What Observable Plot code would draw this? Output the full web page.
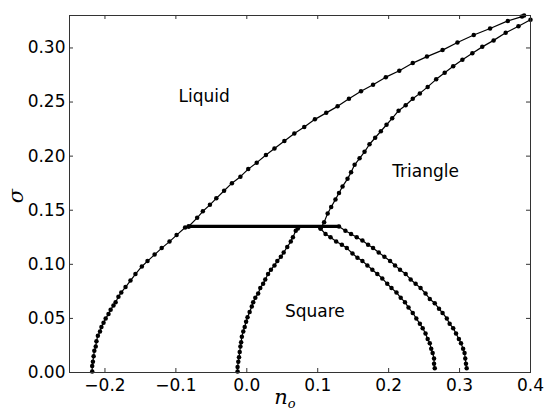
<!DOCTYPE html>
<html>
<head>
<meta charset="utf-8">
<script src="https://cdn.jsdelivr.net/npm/d3@7"></script>
<script src="https://cdn.jsdelivr.net/npm/@observablehq/plot@0.6"></script>
<style>
  html, body { margin: 0; padding: 0; background: #fff; }
  #chart { width: 547px; height: 412px; }
</style>
</head>
<body>
<div id="chart"></div>
<script>
// Phase diagram in the (n_o, sigma) plane: phase boundaries sampled as points.

const xTicks = [-0.2, -0.1, 0.0, 0.1, 0.2, 0.3, 0.4];
const yTicks = [0.00, 0.05, 0.10, 0.15, 0.20, 0.25, 0.30];

// liquid / square boundary, from the n_o axis up to the triple point
const liquidSquare = [
  [-0.218, 0.001], [-0.218, 0.006], [-0.217, 0.010], [-0.216, 0.015], [-0.215, 0.020],
  [-0.213, 0.024], [-0.212, 0.029], [-0.210, 0.034], [-0.207, 0.038], [-0.205, 0.042],
  [-0.202, 0.046], [-0.199, 0.050], [-0.195, 0.054], [-0.192, 0.058], [-0.188, 0.062],
  [-0.185, 0.065], [-0.181, 0.070], [-0.177, 0.074], [-0.171, 0.079], [-0.164, 0.085],
  [-0.157, 0.091], [-0.148, 0.098], [-0.140, 0.103], [-0.130, 0.109], [-0.120, 0.115],
  [-0.109, 0.121], [-0.099, 0.127], [-0.087, 0.134], [-0.082, 0.135]
];

// liquid / triangle boundary, from the triple point to the top of the frame
const liquidTriangle = [
  [-0.082, 0.135], [-0.070, 0.143], [-0.062, 0.149], [-0.052, 0.155], [-0.043, 0.161],
  [-0.032, 0.168], [-0.021, 0.175], [-0.009, 0.181], [0.002, 0.188], [0.014, 0.194],
  [0.027, 0.201], [0.039, 0.207], [0.053, 0.214], [0.067, 0.221], [0.081, 0.227],
  [0.096, 0.234], [0.112, 0.240], [0.128, 0.246], [0.144, 0.253], [0.161, 0.260],
  [0.178, 0.266], [0.196, 0.273], [0.215, 0.279], [0.234, 0.286], [0.254, 0.292],
  [0.276, 0.298], [0.297, 0.305], [0.320, 0.312], [0.343, 0.318], [0.368, 0.325],
  [0.388, 0.329], [0.391, 0.330]
];

// square stability limit on the low-density side
const squareLeft = [
  [-0.013, 0.001], [-0.013, 0.005], [-0.012, 0.010], [-0.011, 0.014], [-0.010, 0.019],
  [-0.009, 0.024], [-0.008, 0.028], [-0.007, 0.033], [-0.005, 0.038], [-0.003, 0.042],
  [-0.001, 0.047], [0.001, 0.051], [0.004, 0.056], [0.007, 0.061], [0.009, 0.065],
  [0.012, 0.069], [0.016, 0.073], [0.019, 0.078], [0.023, 0.082], [0.026, 0.086],
  [0.030, 0.091], [0.034, 0.095], [0.039, 0.099], [0.043, 0.103], [0.048, 0.107],
  [0.052, 0.111], [0.057, 0.116], [0.062, 0.121], [0.065, 0.125], [0.069, 0.131],
  [0.072, 0.133]
];

// triangle stability limit, rising towards the upper right corner
const triangleLeft = [
  [0.104, 0.133], [0.109, 0.139], [0.114, 0.147], [0.119, 0.153], [0.125, 0.160],
  [0.130, 0.166], [0.135, 0.172], [0.142, 0.179], [0.147, 0.185], [0.152, 0.192],
  [0.159, 0.198], [0.166, 0.204], [0.173, 0.211], [0.181, 0.217], [0.189, 0.223],
  [0.197, 0.229], [0.205, 0.235], [0.214, 0.242], [0.224, 0.247], [0.234, 0.253],
  [0.244, 0.258], [0.255, 0.264], [0.267, 0.271], [0.279, 0.277], [0.291, 0.283],
  [0.304, 0.289], [0.318, 0.295], [0.332, 0.301], [0.348, 0.307], [0.365, 0.314],
  [0.383, 0.320], [0.400, 0.326]
];

// square / triangle boundary (inner branch down to the axis)
const squareRight = [
  [0.104, 0.133], [0.111, 0.128], [0.118, 0.125], [0.126, 0.121], [0.134, 0.118],
  [0.141, 0.115], [0.149, 0.110], [0.156, 0.106], [0.163, 0.103], [0.170, 0.099],
  [0.177, 0.095], [0.184, 0.091], [0.191, 0.087], [0.198, 0.082], [0.204, 0.078],
  [0.211, 0.074], [0.217, 0.069], [0.223, 0.065], [0.228, 0.060], [0.234, 0.055],
  [0.239, 0.050], [0.244, 0.045], [0.248, 0.041], [0.252, 0.036], [0.255, 0.031],
  [0.258, 0.027], [0.260, 0.022], [0.262, 0.018], [0.264, 0.013], [0.264, 0.008],
  [0.265, 0.004]
];

// square / triangle boundary (outer branch down to the axis)
const triangleRight = [
  [0.130, 0.135], [0.139, 0.131], [0.147, 0.128], [0.155, 0.125], [0.163, 0.122],
  [0.171, 0.118], [0.178, 0.115], [0.186, 0.111], [0.194, 0.107], [0.202, 0.103],
  [0.209, 0.099], [0.216, 0.095], [0.224, 0.091], [0.231, 0.086], [0.238, 0.082],
  [0.245, 0.078], [0.252, 0.073], [0.258, 0.068], [0.265, 0.064], [0.271, 0.059],
  [0.276, 0.055], [0.282, 0.050], [0.286, 0.045], [0.291, 0.041], [0.295, 0.036],
  [0.299, 0.031], [0.302, 0.027], [0.305, 0.022], [0.307, 0.018], [0.308, 0.013],
  [0.309, 0.008], [0.310, 0.004]
];

// three-phase coexistence line at the triple-point sigma
const coexistence = [[-0.082, 0.135], [0.130, 0.135]];

const regionNames = ["Liquid", "Triangle", "Square"];
const regionX = [-0.060, 0.252, 0.096];
const regionY = [0.255, 0.186, 0.056];

const W = 547, H = 412;
const mL = 69, mR = 17, mT = 15, mB = 40;
const innerW = W - mL - mR, innerH = H - mT - mB;
const tickLen = 4;

const boundaries = [liquidSquare, liquidTriangle, squareLeft, triangleLeft, squareRight, triangleRight];
const regions = regionNames.map((name, i) => ({name, x: regionX[i], y: regionY[i]}));

const curveMarks = boundaries.flatMap(pts => [
  Plot.line(pts, {x: d => d[0], y: d => d[1], stroke: "black", strokeWidth: 1.2}),
  Plot.dot(pts, {x: d => d[0], y: d => d[1], r: 2.25, fill: "black", stroke: "none"})
]);

const chart = Plot.plot({
  width: W,
  height: H,
  marginLeft: mL,
  marginRight: mR,
  marginTop: mT,
  marginBottom: mB,
  x: {domain: [-0.25, 0.4]},
  y: {domain: [0, 0.33]},
  style: {fontFamily: "DejaVu Sans", fontSize: "17px", color: "black", background: "white"},
  marks: [
    ...curveMarks,
    Plot.line(coexistence, {x: d => d[0], y: d => d[1], stroke: "black", strokeWidth: 3.2}),
    Plot.text(regions, {x: "x", y: "y", text: "name", fontSize: 17, fill: "black"}),
    // inward tick marks on all four sides
    Plot.ruleX(xTicks, {x: d => d, insetTop: innerH - tickLen, stroke: "#333"}),
    Plot.ruleX(xTicks, {x: d => d, insetBottom: innerH - tickLen, stroke: "#333"}),
    Plot.ruleY(yTicks, {y: d => d, insetRight: innerW - tickLen, stroke: "#333"}),
    Plot.ruleY(yTicks, {y: d => d, insetLeft: innerW - tickLen, stroke: "#333"}),
    Plot.axisX(xTicks, {tickSize: 0, tickPadding: 6, tickFormat: d3.format(".1f"), fontSize: 17, label: null}),
    Plot.axisY(yTicks, {tickSize: 0, tickPadding: 4, tickFormat: d3.format(".2f"), fontSize: 17, label: null}),
    Plot.frame({stroke: "#333", strokeWidth: 1})
  ]
});

// axis titles set in italic serif, with a subscript on n
const svg = d3.select(chart);
svg.append("text")
  .attr("transform", "translate(16,196) rotate(-90)")
  .attr("text-anchor", "middle")
  .attr("dy", "0.35em")
  .style("font-family", "'DejaVu Serif', serif")
  .style("font-style", "italic")
  .style("font-size", "21px")
  .attr("fill", "black")
  .text("σ");

const xTitle = svg.append("text")
  .attr("x", 285)
  .attr("y", 404)
  .style("font-family", "'DejaVu Serif', serif")
  .style("font-style", "italic")
  .style("font-size", "21px")
  .attr("fill", "black");
xTitle.append("tspan").text("n");
xTitle.append("tspan").attr("dy", 4).style("font-size", "13px").text("o");

document.getElementById("chart").appendChild(chart);
</script>
</body>
</html>
